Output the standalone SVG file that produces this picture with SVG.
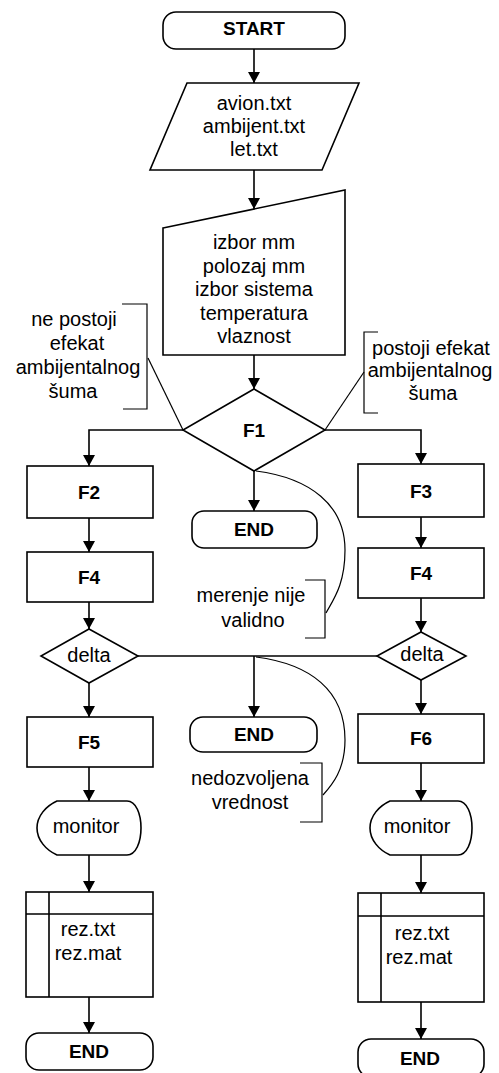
<svg xmlns="http://www.w3.org/2000/svg" width="499" height="1073" viewBox="0 0 499 1073">
<defs>
<marker id="arr" markerUnits="userSpaceOnUse" markerWidth="12" markerHeight="12" viewBox="0 0 12 12" refX="11" refY="6" orient="auto">
<path d="M0,0 L11,6 L0,12 Z" fill="#000"/>
</marker>
<style>
.s{fill:#fff;stroke:#000;stroke-width:1.6}
.b{font-family:"Liberation Sans",Arial,sans-serif;font-weight:bold;font-size:19px;text-anchor:middle;fill:#000}
.t{font-family:"Liberation Sans",Arial,sans-serif;font-size:20px;text-anchor:middle;fill:#000}
.c{fill:none;stroke:#000;stroke-width:1.6}
.ca{fill:none;stroke:#000;stroke-width:1.6;marker-end:url(#arr)}
.n{fill:none;stroke:#000;stroke-width:1.2}
</style>
</defs>
<rect width="499" height="1073" fill="#fff"/>

<g id="connectors">
<path class="ca" d="M254,49 V83"/>
<path class="ca" d="M254,170 V209"/>
<path class="ca" d="M254,355 V389"/>
<path class="ca" d="M183,430 H89 V466"/>
<path class="ca" d="M325,430 H421 V464"/>
<path class="ca" d="M254,471 V511"/>
<path class="ca" d="M89,518 V552"/>
<path class="ca" d="M421,517 V548"/>
<path class="ca" d="M89,602 V629"/>
<path class="ca" d="M421,598 V632"/>
<path class="c" d="M138,656 H377"/>
<path class="ca" d="M254,656 V717"/>
<path class="ca" d="M89,683 V717"/>
<path class="ca" d="M421,680 V714"/>
<path class="ca" d="M89,767 V801"/>
<path class="ca" d="M421,763 V801"/>
<path class="ca" d="M89,855 V892"/>
<path class="ca" d="M421,855 V893"/>
<path class="ca" d="M89,997 V1033"/>
<path class="ca" d="M421,1002 V1039"/>
</g>

<g id="start">
<rect class="s" x="163" y="12" width="182" height="37" rx="13" ry="13"/>
<text class="b" x="254" y="35">START</text>
</g>

<g id="input">
<polygon class="s" points="187,83 359,83 322,170 150,170"/>
<text class="t" x="254" y="110">avion.txt</text>
<text class="t" x="254" y="133">ambijent.txt</text>
<text class="t" x="254" y="156">let.txt</text>
</g>

<g id="manual">
<polygon class="s" points="163,228 345,190 345,355 163,355"/>
<text class="t" x="254" y="249">izbor mm</text>
<text class="t" x="254" y="272.5">polozaj mm</text>
<text class="t" x="254" y="296">izbor sistema</text>
<text class="t" x="254" y="319.5">temperatura</text>
<text class="t" x="254" y="343">vlaznost</text>
</g>

<g id="f1">
<polygon class="s" points="254,389 325,430 254,471 183,430"/>
<text class="b" x="254" y="437">F1</text>
</g>

<g id="note-left">
<path class="n" d="M122,304 H147 V409 H123"/>
<path class="n" d="M148,358 L183,430"/>
<text class="t" x="74" y="326">ne postoji</text>
<text class="t" x="77" y="350">efekat</text>
<text class="t" x="78" y="374">ambijentalnog</text>
<text class="t" x="73" y="398">šuma</text>
</g>

<g id="note-right">
<path class="n" d="M378,332 H364 V413 H378"/>
<path class="n" d="M364,372 L325,430"/>
<text class="t" x="431" y="355">postoji efekat</text>
<text class="t" x="430" y="377">ambijentalnog</text>
<text class="t" x="433" y="400">šuma</text>
</g>

<g id="f2">
<rect class="s" x="27" y="466" width="126" height="52"/>
<text class="b" x="89" y="499">F2</text>
</g>

<g id="f3">
<rect class="s" x="358" y="464" width="126" height="53"/>
<text class="b" x="421" y="498">F3</text>
</g>

<g id="end1">
<rect class="s" x="192" y="511" width="125" height="37" rx="12" ry="12"/>
<text class="b" x="254" y="536">END</text>
</g>

<g id="f4-left">
<rect class="s" x="27" y="552" width="126" height="50"/>
<text class="b" x="89" y="584">F4</text>
</g>

<g id="f4-right">
<rect class="s" x="358" y="548" width="126" height="50"/>
<text class="b" x="421" y="580">F4</text>
</g>

<g id="note-merenje">
<path class="n" d="M256,471 C310,478 345,505 345,550 C345,585 333,600 326,613"/>
<path class="n" d="M305,580 H325 V638 H305"/>
<text class="t" x="251" y="602">merenje nije</text>
<text class="t" x="253" y="627">validno</text>
</g>

<g id="delta-left">
<polygon class="s" points="89,629 138,656 89,683 41,656"/>
<text class="t" x="89" y="662">delta</text>
</g>

<g id="delta-right">
<polygon class="s" points="421,632 466,656 421,680 377,656"/>
<text class="t" x="422" y="661">delta</text>
</g>

<g id="end2">
<rect class="s" x="190" y="717" width="127" height="35" rx="13" ry="13"/>
<text class="b" x="254" y="741">END</text>
</g>

<g id="note-nedozvoljena">
<path class="n" d="M256,657 C310,664 345,690 345,740 C345,770 332,785 323,795"/>
<path class="n" d="M300,763 H322 V822 H300"/>
<text class="t" x="250" y="785">nedozvoljena</text>
<text class="t" x="250" y="809">vrednost</text>
</g>

<g id="f5">
<rect class="s" x="27" y="717" width="126" height="50"/>
<text class="b" x="89" y="749">F5</text>
</g>

<g id="f6">
<rect class="s" x="358" y="714" width="126" height="49"/>
<text class="b" x="421" y="745">F6</text>
</g>

<g id="monitor-left">
<path class="s" d="M57,801 H127 C136,801 141,814 141,828 C141,842 136,855 127,855 H57 C46,850 37,840 37,828 C37,816 46,806 57,801 Z"/>
<text class="t" x="86" y="833">monitor</text>
</g>

<g id="monitor-right">
<path class="s" d="M390,801 H458 C467,801 472,814 472,828 C472,842 467,855 458,855 H390 C379,850 370,840 370,828 C370,816 379,806 390,801 Z"/>
<text class="t" x="417" y="833">monitor</text>
</g>

<g id="storage-left">
<rect class="s" x="26" y="892" width="127" height="105"/>
<path class="c" d="M49,892 V997 M26,914 H153"/>
<text class="t" x="88" y="936">rez.txt</text>
<text class="t" x="88" y="960">rez.mat</text>
</g>

<g id="storage-right">
<rect class="s" x="358" y="893" width="126" height="109"/>
<path class="c" d="M381,893 V1002 M358,916 H484"/>
<text class="t" x="422" y="940">rez.txt</text>
<text class="t" x="419" y="964">rez.mat</text>
</g>

<g id="end3">
<rect class="s" x="26" y="1033" width="127" height="37" rx="13" ry="13"/>
<text class="b" x="89" y="1058">END</text>
</g>

<g id="end4">
<rect class="s" x="358" y="1039" width="126" height="38" rx="13" ry="13"/>
<text class="b" x="420" y="1065">END</text>
</g>
</svg>
